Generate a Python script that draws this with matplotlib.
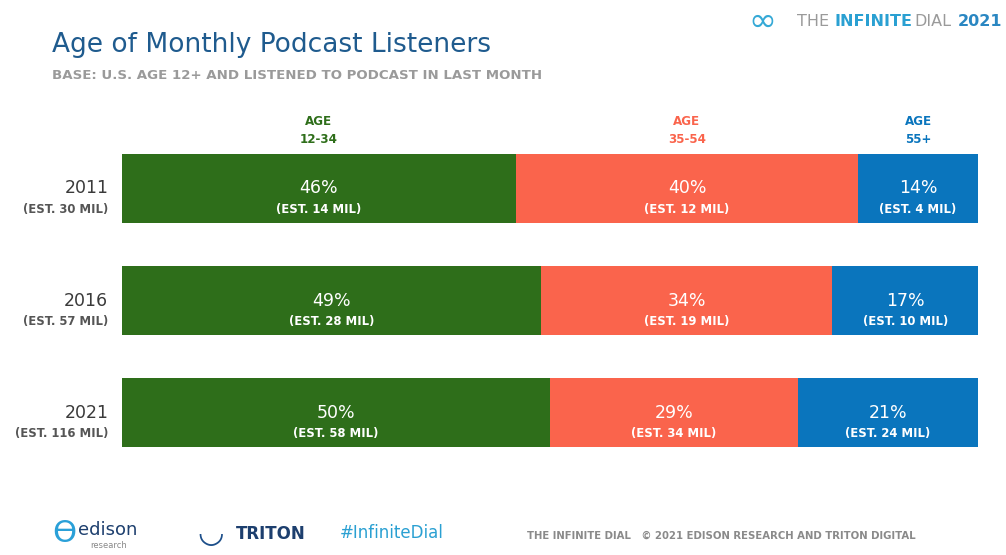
import matplotlib
matplotlib.use("Agg")
import matplotlib.pyplot as plt
import numpy as np

# ---- data ----
years = ["2011", "2016", "2021"]
year_totals = ["(EST. 30 MIL)", "(EST. 57 MIL)", "(EST. 116 MIL)"]
age_groups = ["AGE\n12-34", "AGE\n35-54", "AGE\n55+"]
pct_12_34 = [46, 49, 50]
pct_35_54 = [40, 34, 29]
pct_55_plus = [14, 17, 21]
est_12_34 = ["(EST. 14 MIL)", "(EST. 28 MIL)", "(EST. 58 MIL)"]
est_35_54 = ["(EST. 12 MIL)", "(EST. 19 MIL)", "(EST. 34 MIL)"]
est_55_plus = ["(EST. 4 MIL)", "(EST. 10 MIL)", "(EST. 24 MIL)"]

colors = ["#2e6e1a", "#fa644c", "#0a75bd"]
title_color = "#1f5b8e"

W, H = 1006, 555
fig = plt.figure(figsize=(W / 100, H / 100), dpi=100)
fig.patch.set_facecolor("white")

def fx(px):
    return px / W

def fy(py):
    return 1 - py / H

# bar axes
bar_h = 0.616
ax = fig.add_axes([fx(122), fy(447), fx(978) - fx(122), fy(154) - fy(447)])
ax.set_xlim(0, 100)
ax.set_ylim(2 + bar_h / 2, -bar_h / 2)
ax.axis("off")

series = [pct_12_34, pct_35_54, pct_55_plus]
ests = [est_12_34, est_35_54, est_55_plus]
ypos = np.arange(len(years))
left = np.zeros(len(years))
for s, (vals, est, c) in enumerate(zip(series, ests, colors)):
    vals = np.array(vals, dtype=float)
    ax.barh(ypos, vals, left=left, height=bar_h, color=c, edgecolor="none")
    for i in range(len(years)):
        cx = left[i] + vals[i] / 2
        ax.text(cx, ypos[i], f"{int(vals[i])}%", color="white",
                ha="center", va="center", fontsize=12.5, family="DejaVu Sans")
        ax.text(cx, ypos[i] + 0.19, est[i], color="white", ha="center",
                va="center", fontsize=8.4, fontweight="bold", family="DejaVu Sans")
    left = left + vals

# age headers, centered over the first-row segments
first_left = 0
for s, (lab, c) in enumerate(zip(age_groups, colors)):
    w = series[s][0]
    cx = first_left + w / 2
    first_left += w
    ax.text(cx, -bar_h / 2 - 0.075, lab, color=c, ha="center", va="bottom",
            fontsize=8.6, fontweight="bold", linespacing=1.5, family="DejaVu Sans")

# row labels
for i, (yr, tot) in enumerate(zip(years, year_totals)):
    ax.text(-1.6, ypos[i], yr, ha="right", va="center", fontsize=12.5,
            color="#3a3a3a", family="DejaVu Sans")
    ax.text(-1.6, ypos[i] + 0.19, tot, ha="right", va="center", fontsize=8.4,
            fontweight="bold", color="#555555", family="DejaVu Sans")

# title / subtitle
fig.text(fx(52), fy(45), "Age of Monthly Podcast Listeners", fontsize=19,
         color=title_color, ha="left", va="center", family="DejaVu Sans")
fig.text(fx(52), fy(76), "BASE: U.S. AGE 12+ AND LISTENED TO PODCAST IN LAST MONTH",
         fontsize=9.6, color="#9a9a9a", fontweight="bold", ha="left", va="center",
         family="DejaVu Sans")

# top-right brand
fig.text(fx(748), fy(21), "∞", fontsize=24, color="#35a9d6", ha="left",
         va="center", family="DejaVu Sans")
fig.text(fx(797), fy(21), "THE", fontsize=11.5, color="#9a9a9a", ha="left",
         va="center", family="DejaVu Sans")
fig.text(fx(834), fy(21), "INFINITE", fontsize=11.5, color="#2aa0d2",
         fontweight="bold", ha="left", va="center", family="DejaVu Sans")
fig.text(fx(914), fy(21), "DIAL", fontsize=11.5, color="#9a9a9a", ha="left",
         va="center", family="DejaVu Sans")
fig.text(fx(958), fy(21), "2021", fontsize=11.5, color="#2a87c2",
         fontweight="bold", ha="left", va="center", family="DejaVu Sans")

# footer
fig.text(fx(52), fy(533), "Ɵ", fontsize=22, color="#2aa0d8", ha="left",
         va="center", family="DejaVu Sans")
fig.text(fx(78), fy(530), "edison", fontsize=13, color="#1d3f6e", ha="left",
         va="center", family="DejaVu Sans")
fig.text(fx(90), fy(546), "research", fontsize=6, color="#888888", ha="left",
         va="center", family="DejaVu Sans")
fig.text(fx(197), fy(534), "◡", fontsize=22, color="#1d4f8a", ha="left",
         va="center", family="DejaVu Sans")
fig.text(fx(236), fy(534), "TRITON", fontsize=12, color="#1d3f6e",
         fontweight="bold", ha="left", va="center", family="DejaVu Sans")
fig.text(fx(340), fy(533), "#InfiniteDial", fontsize=12, color="#2aa0d2",
         ha="left", va="center", family="DejaVu Sans")
fig.text(fx(527), fy(536),
         "THE INFINITE DIAL   © 2021 EDISON RESEARCH AND TRITON DIGITAL",
         fontsize=7.3, color="#8a8a8a", fontweight="bold", ha="left",
         va="center", family="DejaVu Sans")

fig.savefig("out.png", dpi=100, facecolor="white")
